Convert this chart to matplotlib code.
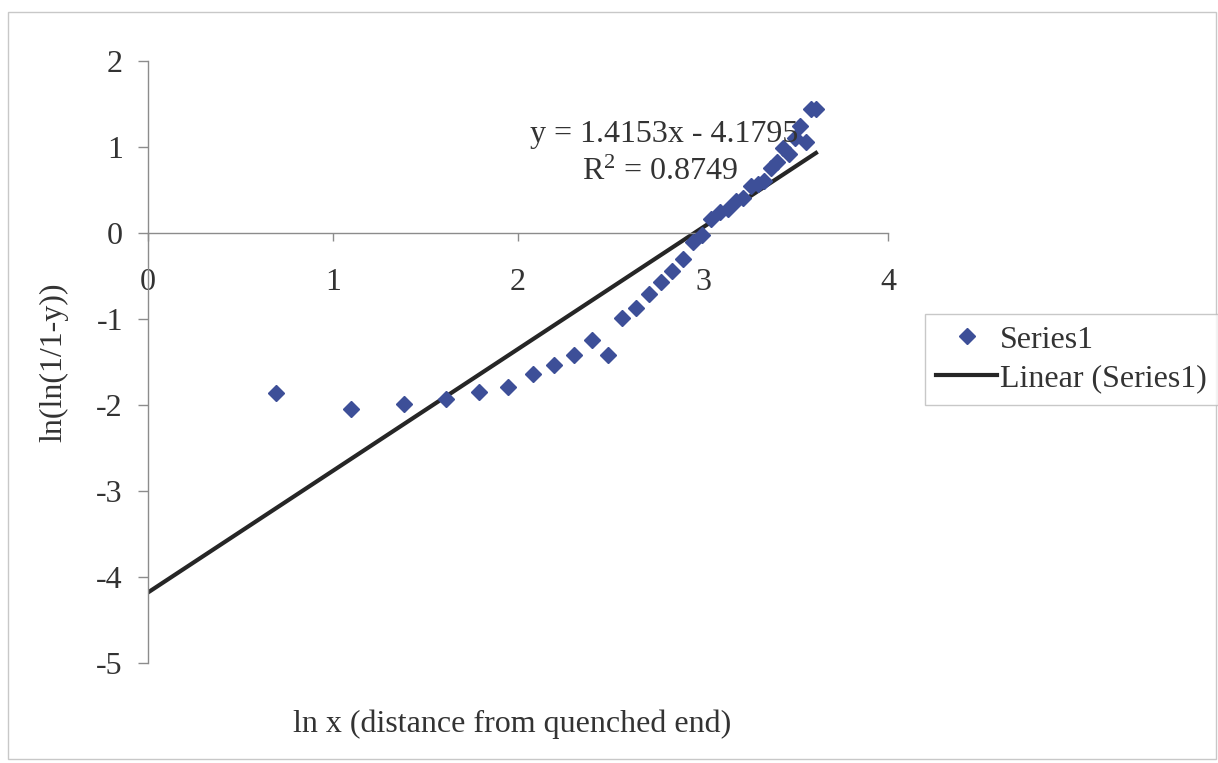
import numpy as np
import matplotlib
matplotlib.use("Agg")
import matplotlib.pyplot as plt
from matplotlib.patches import Rectangle

# ln x values (x = 2..37) and ln(ln(1/(1-y)))
ln_x = np.log(np.arange(2, 38))
ln_ln = [-1.86, -2.05, -1.99, -1.93, -1.85, -1.79, -1.64, -1.54, -1.42, -1.24,
         -1.42, -0.99, -0.87, -0.71, -0.57, -0.44, -0.30, -0.10, -0.02, 0.16,
         0.25, 0.28, 0.37, 0.41, 0.55, 0.57, 0.61, 0.76, 0.83, 0.99,
         0.92, 1.10, 1.25, 1.06, 1.44, 1.44]

# trendline as reported on the chart
slope = 1.4153
intercept = -4.1795
r2 = 0.8749

plt.rcParams['font.family'] = ['Liberation Serif', 'DejaVu Serif']
plt.rcParams['font.size'] = 23
plt.rcParams['axes.unicode_minus'] = False

fig = plt.figure(figsize=(12.18, 7.63), dpi=100)
ax = fig.add_axes([0.1215, 0.131, 0.6075, 0.789])

# figure frame like the Excel chart area
fig.patches.append(Rectangle((0.0066, 0.005), 0.9917, 0.979, transform=fig.transFigure,
                             fill=False, edgecolor='#c8c8c8', lw=1.0))

line_x = np.array([0, ln_x.max()])
ax.plot(line_x, slope * line_x + intercept, color='#262626', lw=3.0,
        label='Linear (Series1)', zorder=2)
ax.plot(ln_x, ln_ln, linestyle='none', marker='D', ms=8, color='#3d4f98',
        label='Series1', zorder=3)

ax.set_xlim(0, 4)
ax.set_ylim(-5, 2)
ax.set_xticks([0, 1, 2, 3, 4])
ax.set_yticks([-5, -4, -3, -2, -1, 0, 1, 2])

ax.spines['top'].set_visible(False)
ax.spines['right'].set_visible(False)
ax.spines['bottom'].set_position(('data', 0))
for s in ['left', 'bottom']:
    ax.spines[s].set_color('#8c8c8c')
    ax.spines[s].set_linewidth(1.0)
ax.tick_params(axis='y', direction='out', length=7, width=1, color='#8c8c8c',
               pad=11, labelcolor='#333333')
ax.tick_params(axis='x', direction='out', length=6, width=1, color='#8c8c8c',
               pad=19, labelcolor='#333333')

ax.set_xlabel('ln x (distance from quenched end)', color='#333333')
ax.xaxis.set_label_coords(0.492, -0.077)
ax.set_ylabel('ln(ln(1/1-y))', color='#333333')
ax.yaxis.set_label_coords(-0.108, 0.5)

ax.text(2.79, 1.15, 'y = 1.4153x - 4.1795', ha='center', va='center', color='#333333')
ax.text(2.77, 0.70, '$\\mathregular{R^2}$ = %.4f' % r2, ha='center', va='center',
        color='#333333')

handles, labels = ax.get_legend_handles_labels()
leg = fig.legend(handles[::-1], labels[::-1], loc='upper left',
                 bbox_to_anchor=(0.7595, 0.5885), frameon=True, fancybox=False,
                 edgecolor='#bbbbbb', handlelength=1.9, handletextpad=0.1,
                 borderpad=0.35, labelspacing=0.3, fontsize=23, borderaxespad=0)
for t in leg.get_texts():
    t.set_color('#333333')

fig.savefig('out.png', dpi=100)
